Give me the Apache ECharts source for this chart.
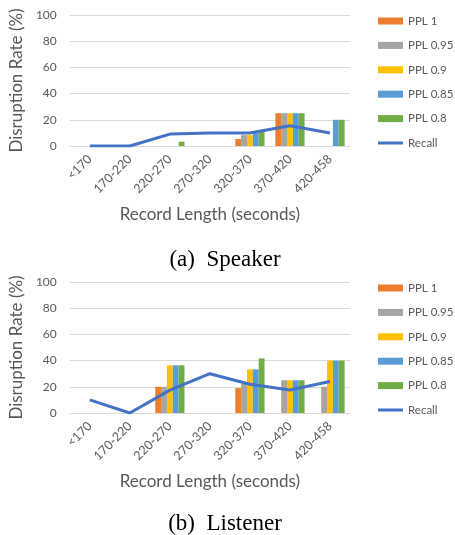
<!DOCTYPE html>
<html>
<head>
<meta charset="utf-8">
<script src="https://cdn.jsdelivr.net/npm/echarts@6/dist/echarts.min.js"></script>
<style>
  html, body { margin: 0; padding: 0; background: #fff; }
  #main { width: 455px; height: 535px; }
</style>
</head>
<body>
<div id="main"></div>
<script>
// categories + series values
var categories = ['<170', '170-220', '220-270', '270-320', '320-370', '370-420', '420-458']
var seriesNames = ['PPL 1', 'PPL 0.95', 'PPL 0.9', 'PPL 0.85', 'PPL 0.8']
var seriesColors = ['#ED7D31', '#A5A5A5', '#FFC000', '#5B9BD5', '#70AD47']
var recallColor = '#4472C4'
var yTicks = [0, 20, 40, 60, 80, 100]

// (a) Speaker
var speakerPpl1 = [0, 0, 0, 0, 5.3, 25, 0]
var speakerPpl095 = [0, 0, 0, 0, 8.3, 25, 0]
var speakerPpl09 = [0, 0, 0, 0, 8.3, 25, 0]
var speakerPpl085 = [0, 0, 0, 0, 10, 25, 20]
var speakerPpl08 = [0, 0, 3.3, 0, 11.1, 25, 20]
var speakerRecall = [0, 0, 9.1, 10, 10, 15.4, 10]

// (b) Listener
var listenerPpl1 = [0, 0, 20, 0, 19, 0, 0]
var listenerPpl095 = [0, 0, 20, 0, 22.2, 25, 20]
var listenerPpl09 = [0, 0, 36.4, 0, 33.3, 25, 40]
var listenerPpl085 = [0, 0, 36.4, 0, 33.3, 25, 40]
var listenerPpl08 = [0, 0, 36.4, 0, 41.7, 25, 40]
var listenerRecall = [10, 0, 17.5, 30, 22, 17.5, 24]

var textColor = '#595959'
var fontName = 'Lato, "Open Sans", sans-serif'

// one panel = title + legend + grid + axes + series, shifted down by dy
function panel (idx, dy, caption, barData, recallData) {
  var series = barData.map(function (vals, i) {
    return {
      name: seriesNames[i],
      type: 'bar',
      xAxisIndex: idx,
      yAxisIndex: idx,
      data: vals,
      barGap: '0%',
      barCategoryGap: '27%',
      itemStyle: { color: seriesColors[i] }
    }
  })
  series.push({
    name: 'Recall',
    type: 'line',
    xAxisIndex: idx,
    yAxisIndex: idx,
    data: recallData,
    symbol: 'none',
    lineStyle: { color: recallColor, width: 3 },
    itemStyle: { color: recallColor }
  })
  return {
    title: {
      text: caption,
      left: 220,
      textAlign: 'center',
      top: 243 + dy,
      textStyle: {
        fontFamily: '"Liberation Serif", "Times New Roman", serif',
        fontWeight: 'normal',
        fontSize: 23,
        color: '#000'
      }
    },
    legend: {
      orient: 'vertical',
      left: 373,
      top: 10 + dy,
      itemWidth: 25,
      itemHeight: 7,
      itemGap: 12.4,
      data: seriesNames.map(function (n) { return { name: n, icon: 'rect' } })
        .concat([{ name: 'Recall', icon: 'path://M0,0L25,0L25,3L0,3Z' }]),
      textStyle: { color: textColor, fontSize: 11.5, fontFamily: fontName }
    },
    grid: { left: 64, top: 15 + dy, width: 286, height: 131 },
    xAxis: {
      type: 'category',
      gridIndex: idx,
      data: categories,
      name: 'Record Length (seconds)',
      nameLocation: 'middle',
      nameGap: 60,
      nameTextStyle: { color: textColor, fontSize: 17, fontFamily: fontName },
      axisLine: { lineStyle: { color: '#D9D9D9', width: 1 } },
      axisTick: { show: false },
      axisLabel: {
        interval: 0,
        rotate: 45,
        margin: 11,
        color: textColor,
        fontSize: 12.5,
        fontFamily: fontName
      }
    },
    yAxis: {
      type: 'value',
      gridIndex: idx,
      min: yTicks[0],
      max: yTicks[yTicks.length - 1],
      interval: 20,
      name: 'Disruption Rate (%)',
      nameLocation: 'middle',
      nameGap: 37,
      nameTextStyle: { color: textColor, fontSize: 17, fontFamily: fontName },
      axisLine: { show: false },
      axisTick: { show: false },
      axisLabel: { color: textColor, fontSize: 12, margin: 13, fontFamily: fontName },
      splitLine: { lineStyle: { color: '#D9D9D9', width: 1 } }
    },
    series: series
  }
}

var a = panel(0, 0, '(a)  Speaker',
  [speakerPpl1, speakerPpl095, speakerPpl09, speakerPpl085, speakerPpl08], speakerRecall)
var b = panel(1, 267, '(b)  Listener',
  [listenerPpl1, listenerPpl095, listenerPpl09, listenerPpl085, listenerPpl08], listenerRecall)
b.title.top = 507

var myChart = echarts.init(document.getElementById('main'))
myChart.setOption({
  animation: false,
  textStyle: { fontFamily: fontName },
  title: [a.title, b.title],
  legend: [a.legend, b.legend],
  grid: [a.grid, b.grid],
  xAxis: [a.xAxis, b.xAxis],
  yAxis: [a.yAxis, b.yAxis],
  series: a.series.concat(b.series)
})
</script>
</body>
</html>
